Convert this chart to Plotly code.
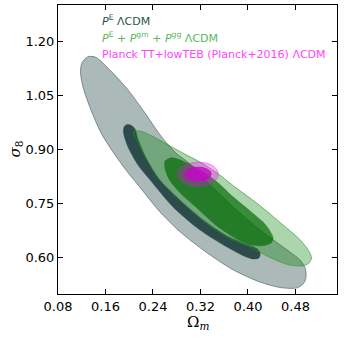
import plotly.graph_objects as go

# contour outlines (Omega_m, sigma_8)
pe_2sig_om = [0.1306, 0.144, 0.1693, 0.198, 0.2266, 0.2536, 0.2788, 0.3024, 0.3277, 0.3749,
              0.4204, 0.4591, 0.4878, 0.4962, 0.4979, 0.4945, 0.4827, 0.4541, 0.4204, 0.3749,
              0.3311, 0.2856, 0.2519, 0.2215, 0.1946, 0.1727, 0.1525, 0.1356, 0.1221, 0.1179,
              0.1204, 0.1306]
pe_2sig_s8 = [1.157, 1.155, 1.117, 1.065, 1.001, 0.937, 0.890, 0.860, 0.816, 0.741,
              0.677, 0.630, 0.594, 0.572, 0.550, 0.531, 0.517, 0.518, 0.533, 0.567,
              0.614, 0.672, 0.727, 0.788, 0.843, 0.893, 0.946, 1.009, 1.073, 1.115,
              1.140, 1.157]

pe_1sig_om = [0.1958, 0.203, 0.2097, 0.214, 0.2283, 0.2502, 0.2889, 0.3294, 0.3631, 0.4018,
              0.4153, 0.4204, 0.4187, 0.4086, 0.3951, 0.3648, 0.3193, 0.2738, 0.235, 0.2148,
              0.198, 0.1904, 0.1912, 0.1958]
pe_1sig_s8 = [0.969, 0.967, 0.957, 0.932, 0.877, 0.818, 0.755, 0.699, 0.662, 0.634,
              0.625, 0.614, 0.600, 0.597, 0.604, 0.630, 0.677, 0.741, 0.816, 0.857,
              0.907, 0.946, 0.962, 0.969]

comb_2sig_om = [0.2182, 0.235, 0.2654, 0.2906, 0.3193, 0.3479, 0.3782, 0.417, 0.4591, 0.4878,
                0.5013, 0.5071, 0.5029, 0.4928, 0.4709, 0.4541, 0.4288, 0.4035, 0.3648, 0.3294,
                0.2906, 0.2519, 0.23, 0.2148, 0.2081, 0.2081, 0.2182]
comb_2sig_s8 = [0.951, 0.940, 0.913, 0.890, 0.865, 0.835, 0.796, 0.749, 0.691, 0.650,
                0.622, 0.600, 0.586, 0.578, 0.580, 0.589, 0.608, 0.630, 0.658, 0.697,
                0.752, 0.816, 0.871, 0.921, 0.940, 0.951, 0.951]

comb_1sig_om = [0.2721, 0.294, 0.3193, 0.3479, 0.3749, 0.4035, 0.4254, 0.4372, 0.4423, 0.4389,
                0.4254, 0.4035, 0.3782, 0.3479, 0.3142, 0.2856, 0.267, 0.2603, 0.2603, 0.2721]
comb_1sig_s8 = [0.877, 0.865, 0.843, 0.810, 0.769, 0.730, 0.699, 0.674, 0.655, 0.641,
                0.634, 0.636, 0.655, 0.688, 0.738, 0.780, 0.818, 0.849, 0.868, 0.877]

# Planck TT+lowTEB: centre and half widths (Omega_m, sigma_8)
planck_center = [0.316, 0.832]
planck_1sig = [0.022, 0.019]
planck_2sig = [0.034, 0.033]

x_ticks = [0.08, 0.16, 0.24, 0.32, 0.40, 0.48]
y_ticks = [0.60, 0.75, 0.90, 1.05, 1.20]

labels = ["<i>P</i><sup>E</sup> ΛCDM",
          "<i>P</i><sup>E</sup> + <i>P</i><sup>gm</sup> + <i>P</i><sup>gg</sup> ΛCDM",
          "Planck TT+lowTEB (Planck+2016) ΛCDM"]
label_colors = ["#2f4f4f", "#5cb85c", "#ff44ff"]

fig = go.Figure()

def contour(xs, ys, fill, line, width=1):
    fig.add_trace(go.Scatter(x=xs, y=ys, mode="lines", fill="toself", fillcolor=fill,
                             line=dict(color=line, width=width, shape="spline", smoothing=0.8),
                             hoverinfo="skip", showlegend=False))

contour(pe_2sig_om, pe_2sig_s8, "rgba(47,79,79,0.4)", "rgba(47,79,79,0.55)")
contour(pe_1sig_om, pe_1sig_s8, "rgba(44,76,76,1)", "rgba(44,76,76,1)", 0.5)
contour(comb_2sig_om, comb_2sig_s8, "rgba(0,128,0,0.33)", "rgba(40,150,40,0.6)")
contour(comb_1sig_om, comb_1sig_s8, "rgba(0,105,0,0.68)", "rgba(0,105,0,0.68)", 0.5)

for half, fill, line in [(planck_2sig, "rgba(255,0,255,0.3)", "rgba(255,0,255,0.45)"),
                         (planck_1sig, "rgba(205,0,205,0.8)", "rgba(205,0,205,0.8)")]:
    fig.add_shape(type="circle", xref="x", yref="y", layer="above",
                  x0=planck_center[0] - half[0], x1=planck_center[0] + half[0],
                  y0=planck_center[1] - half[1], y1=planck_center[1] + half[1],
                  fillcolor=fill, line=dict(color=line, width=1))

for i, (txt, col) in enumerate(zip(labels, label_colors)):
    fig.add_annotation(text=txt, xref="paper", yref="paper", x=0.15, y=0.948 - i * 0.059,
                       xanchor="left", yanchor="middle", showarrow=False,
                       font=dict(family="DejaVu Sans", size=11, color=col))

fig.add_annotation(text="Ω<sub><i>m</i></sub>", xref="paper", yref="paper", x=0.5, y=0,
                   yshift=-28, xanchor="center", yanchor="middle", showarrow=False,
                   font=dict(family="DejaVu Serif", size=15, color="black"))
fig.add_annotation(text="<i>σ</i><sub>8</sub>", xref="paper", yref="paper", x=0, y=0.5,
                   xshift=-43, xanchor="center", yanchor="middle", showarrow=False, textangle=-90,
                   font=dict(family="DejaVu Serif", size=15, color="black"))

axis = dict(showgrid=False, zeroline=False, showline=True, linecolor="black", linewidth=1,
            mirror="ticks", ticks="inside", ticklen=5, tickcolor="black",
            tickfont=dict(family="DejaVu Sans", size=13, color="black"))
fig.update_xaxes(range=[0.08, 0.55], tickvals=x_ticks, ticktext=[f"{v:.2f}" for v in x_ticks], **axis)
fig.update_yaxes(range=[0.5, 1.3], tickvals=y_ticks, ticktext=[f"{v:.2f}" for v in y_ticks], **axis)
fig.update_layout(width=344, height=339, margin=dict(l=58, r=7, t=5, b=45),
                  plot_bgcolor="white", paper_bgcolor="white")

fig.write_html("out.html", config={"displayModeBar": False},
               post_script="document.body.style.margin='0';")
